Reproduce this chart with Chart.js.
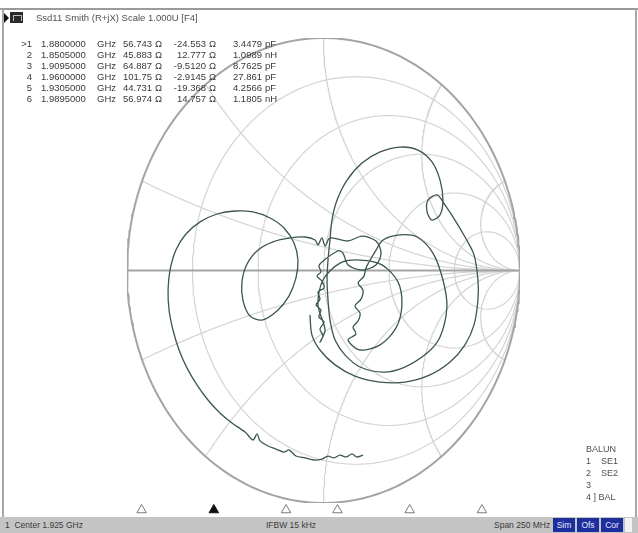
<!DOCTYPE html>
<html>
<head>
<meta charset="utf-8">
<script src="https://cdn.jsdelivr.net/npm/chart.js@4.4.0/dist/chart.umd.min.js"></script>
<style>
  html, body { margin: 0; padding: 0; background: #fff; }
  #wrap { position: relative; width: 638px; height: 533px; overflow: hidden; background: #fff;
          font-family: "Liberation Sans", Arial, sans-serif; color: #404040; }
  canvas { position: absolute; left: 0; }
  #smith { top: 0; }
  #strip { top: 502px; }
  .frameTop { position: absolute; left: 0; top: 8px; width: 638px; height: 2px; background: #9a9a9a; }
  .frameL { position: absolute; left: 2px; top: 9px; width: 2px; height: 509px; background: #a8a8a8; }
  .frameR { position: absolute; left: 635px; top: 9px; width: 2px; height: 509px; background: #a8a8a8; }
  #title { position: absolute; left: 36px; top: 12px; font-size: 9.5px; white-space: pre; color: #505050; }
  .icoTri { position: absolute; left: 4px; top: 13px; width: 0; height: 0;
            border-top: 5px solid transparent; border-bottom: 5px solid transparent; border-left: 5px solid #111; }
  .icoBox { position: absolute; left: 10px; top: 12px; width: 13px; height: 11px; background: #2a2a2a; }
  .icoBox::after { content: ""; position: absolute; left: 3px; top: 3px; width: 7px; height: 5px;
                   border: 1px solid #bbb; border-bottom: none; }
  #mk { position: absolute; left: 0; top: 38px; font-size: 9.5px; color: #3a3a3a; }
  .row { position: relative; height: 11px; }
  .row span { position: absolute; top: 0; white-space: pre; }
  .r { text-align: right; }
  #balun { position: absolute; left: 586px; top: 443px; font-size: 9px; line-height: 12px; color: #505050; white-space: pre; }
  #status { position: absolute; left: 0; top: 517px; width: 638px; height: 16px; background: #c4c4c4;
            font-size: 8.5px; color: #3a3a3a; }
  #status span { position: absolute; top: 3px; white-space: pre; }
  .flag { position: absolute; top: 1px; height: 14px; background: #1c2f9c; color: #e8e8ff; font-size: 8.5px;
          line-height: 14px; text-align: center; width: 22px; }
  .slot { position: absolute; top: 1px; left: 625px; width: 7px; height: 14px; background: #f2f2f2; }
</style>
</head>
<body>
<div id="wrap">
  <canvas id="smith" width="638" height="533"></canvas>
  <canvas id="strip" width="638" height="16"></canvas>
  <div class="frameTop"></div>
  <div class="frameL"></div>
  <div class="frameR"></div>
  <div class="icoTri"></div>
  <div class="icoBox"></div>
  <div id="title">Ssd11 Smith (R+jX) Scale 1.000U [F4]</div>
  <div id="mk"></div>
  <div id="balun">BALUN
1    SE1
2    SE2
3
4 ] BAL</div>
  <div id="status">
    <span style="left:5px">1  Center 1.925 GHz</span>
    <span style="left:266px">IFBW 15 kHz</span>
    <span style="left:494px">Span 250 MHz</span>
    <div class="flag" style="left:553px">Sim</div>
    <div class="flag" style="left:577px">Ofs</div>
    <div class="flag" style="left:601px">Cor</div>
    <div class="slot"></div>
  </div>
</div>
<script>
// ---- sweep settings ----
const centerGHz = 1.925;
const spanGHz = 0.25;

// ---- markers ----
const markerIds   = [">1", "2", "3", "4", "5", "6"];
const markerFreqs = [1.8800000, 1.8505000, 1.9095000, 1.9600000, 1.9305000, 1.9895000]; // GHz
const markerR     = ["56.743", "45.883", "64.887", "101.75", "44.731", "56.974"];       // ohm
const markerX     = ["-24.553", "12.777", "-9.5120", "-2.9145", "-19.368", "14.757"];   // ohm
const markerLC    = ["3.4479", "1.0989", "8.7625", "27.861", "4.2566", "1.1805"];
const markerUnit  = ["pF", "nH", "pF", "pF", "pF", "nH"];
const activeMarker = 0;

// ---- Ssd11 trace, reflection coefficient (real, imaginary) along the sweep ----
const traceRe = [
  // low-frequency tail (with ripple) and left loop
  0.201, 0.170, 0.145, 0.115, 0.084, 0.053, 0.023, -0.008, -0.048, -0.094, -0.140, -0.176,
  -0.201, -0.242, -0.282, -0.323, -0.338, -0.359, -0.399, -0.466,
  -0.527, -0.588, -0.644, -0.695, -0.735, -0.766, -0.786, -0.791, -0.781, -0.751, -0.700, -0.628,
  -0.542, -0.450, -0.359, -0.272, -0.201, -0.150, -0.130, -0.140, -0.176, -0.237, -0.313, -0.374,
  -0.410, -0.415, -0.389, -0.333, -0.257, -0.170, -0.094, -0.043,
  // pass band near the centre
  -0.028, -0.008, 0.008, 0.033,
  0.125, 0.196, 0.267, 0.293, 0.267, 0.196, 0.125, 0.099, 0.074,
  -0.008, -0.023, -0.013, -0.033, -0.008, 0.003, -0.028, -0.018, -0.038, -0.013, -0.023, 0.003, -0.018, -0.003, -0.018,
  0.008, -0.028, -0.003, 0.084, 0.186, 0.298, 0.379, 0.399, 0.369, 0.288, 0.186, 0.125,
  0.165, 0.150, 0.176, 0.186, 0.160, 0.191, 0.201, 0.176, 0.206, 0.216, 0.262,
  // upper band loops
  0.303, 0.389, 0.476, 0.557, 0.608, 0.628, 0.593, 0.527, 0.405, 0.303, 0.186, 0.109, 0.059,
  0.033, 0.023, 0.018, 0.023, 0.033, 0.043, 0.069, 0.120, 0.196, 0.288, 0.389, 0.481, 0.552,
  0.593, 0.608, 0.593, 0.552, 0.527, 0.532, 0.578, 0.618, 0.669, 0.720, 0.766, 0.786, 0.786,
  0.766, 0.720, 0.644, 0.542, 0.415, 0.288, 0.160, 0.059, -0.018, -0.059, -0.069
];
const traceIm = [
  -0.794, -0.802, -0.789, -0.802, -0.794, -0.806, -0.798, -0.811, -0.815, -0.806, -0.798, -0.772,
  -0.781, -0.768, -0.755, -0.733, -0.703, -0.729, -0.695, -0.656,
  -0.613, -0.557, -0.492, -0.419, -0.342, -0.256, -0.170, -0.084, 0.002, 0.088, 0.157, 0.209,
  0.243, 0.256, 0.252, 0.226, 0.183, 0.118, 0.045, -0.032, -0.110, -0.174, -0.213, -0.196,
  -0.127, -0.049, 0.028, 0.088, 0.123, 0.140, 0.144, 0.131,
  0.110, 0.140, 0.105, 0.140,
  0.127, 0.148, 0.127, 0.075, 0.024, 0.002, 0.024, 0.075, 0.085,
  0.037, 0.019, -0.006, -0.024, -0.045, -0.075, -0.092, -0.123, -0.148, -0.170, -0.200, -0.221, -0.252, -0.282, -0.308,
  -0.256, -0.148, -0.041, 0.032, 0.045, 0.024, -0.049, -0.148, -0.247, -0.320, -0.342, -0.299,
  -0.273, -0.243, -0.217, -0.183, -0.153, -0.123, -0.084, -0.054, -0.024, 0.011, 0.080,
  0.131, 0.153, 0.144, 0.075, -0.041, -0.157, -0.286, -0.355, -0.419, -0.437, -0.415, -0.363, -0.299,
  -0.213, -0.127, -0.041, 0.045, 0.131, 0.217, 0.303, 0.389, 0.462, 0.510, 0.531, 0.518, 0.467,
  0.389, 0.303, 0.239, 0.217, 0.252, 0.303, 0.325, 0.282, 0.217, 0.144, 0.067, -0.041, -0.127,
  -0.234, -0.320, -0.394, -0.449, -0.480, -0.480, -0.454, -0.406, -0.342, -0.277, -0.191
];

// ---- Smith chart grid values ----
const resistanceCircles = [0.2, 0.5, 1, 2, 5];
const reactanceArcs = [0.2, 0.5, 1, 2, 5];

// reflection coefficient of a normalised impedance r + jx
function gamma(r, x) {
  const dr = r + 1, den = dr * dr + x * x;
  return { x: ((r * r + x * x) - 1) / den, y: (2 * x) / den };
}
function rCircle(r) {
  const pts = [];
  for (let i = 0; i <= 240; i++) {
    const t = -Math.PI / 2 + Math.PI * i / 240;
    pts.push(gamma(r, Math.tan(t * 0.9995)));
  }
  return pts;
}
function xArc(x) {
  const pts = [];
  for (let i = 0; i <= 200; i++) {
    const u = i / 200 * 0.9995;
    pts.push(gamma(u / (1 - u), x));
  }
  return pts;
}
function unitCircle() {
  const pts = [];
  for (let i = 0; i <= 360; i++) {
    const a = i / 360 * 2 * Math.PI;
    pts.push({ x: Math.cos(a), y: Math.sin(a) });
  }
  return pts;
}

const gridColor = "#d4d4d4";
const lineDs = (data, color, width, order) => ({
  data, borderColor: color, borderWidth: width, showLine: true, pointRadius: 0,
  fill: false, tension: 0, order
});

const datasets = [];
datasets.push({
  data: traceRe.map((v, i) => ({ x: v, y: traceIm[i] })),
  borderColor: "#3b5550", borderWidth: 1.3, showLine: true, pointRadius: 0,
  fill: false, tension: 0.3, order: 0
});
datasets.push(lineDs(unitCircle(), "#a4a4a4", 2, 1));
datasets.push(lineDs([{ x: -1, y: 0 }, { x: 1, y: 0 }], "#a4a4a4", 2, 1));
resistanceCircles.forEach(r => datasets.push(lineDs(rCircle(r), gridColor, 1.2, 2)));
reactanceArcs.forEach(x => {
  datasets.push(lineDs(xArc(x), gridColor, 1.2, 2));
  datasets.push(lineDs(xArc(-x), gridColor, 1.2, 2));
});

new Chart(document.getElementById("smith"), {
  type: "scatter",
  data: { datasets },
  options: {
    responsive: false, animation: false, events: [],
    layout: { padding: { left: 127, right: 118, top: 38, bottom: 30 } },
    plugins: { legend: { display: false }, tooltip: { enabled: false } },
    scales: {
      x: { type: "linear", min: -1, max: 1, display: false },
      y: { type: "linear", min: -1, max: 1, display: false }
    }
  }
});

// ---- marker position strip along the frequency axis ----
new Chart(document.getElementById("strip"), {
  type: "scatter",
  data: {
    datasets: [{
      data: markerFreqs.map(f => ({ x: f, y: 0 })),
      pointStyle: "triangle", pointRadius: 5.5, borderWidth: 1,
      borderColor: markerFreqs.map((f, i) => i === activeMarker ? "#111" : "#7a7a7a"),
      backgroundColor: markerFreqs.map((f, i) => i === activeMarker ? "#111" : "#fff"),
      clip: false
    }]
  },
  options: {
    responsive: false, animation: false, events: [],
    layout: { padding: { left: 18, right: 8, top: 0, bottom: 0 } },
    plugins: { legend: { display: false }, tooltip: { enabled: false } },
    scales: {
      x: { type: "linear", min: centerGHz - spanGHz / 2, max: centerGHz + spanGHz / 2, display: false },
      y: { type: "linear", min: -1, max: 1, display: false }
    }
  }
});

// ---- marker readout table ----
const mk = document.getElementById("mk");
markerIds.forEach((id, i) => {
  const row = document.createElement("div");
  row.className = "row";
  row.innerHTML =
    `<span class="r" style="left:14px;width:18px">${id}</span>` +
    `<span style="left:41px">${markerFreqs[i].toFixed(7)}</span>` +
    `<span style="left:97px">GHz</span>` +
    `<span class="r" style="left:110px;width:42px">${markerR[i]}</span>` +
    `<span style="left:155px">\u03A9</span>` +
    `<span class="r" style="left:160px;width:46px">${markerX[i]}</span>` +
    `<span style="left:209px">\u03A9</span>` +
    `<span class="r" style="left:220px;width:42px">${markerLC[i]}</span>` +
    `<span style="left:265px">${markerUnit[i]}</span>`;
  mk.appendChild(row);
});
</script>
</body>
</html>
